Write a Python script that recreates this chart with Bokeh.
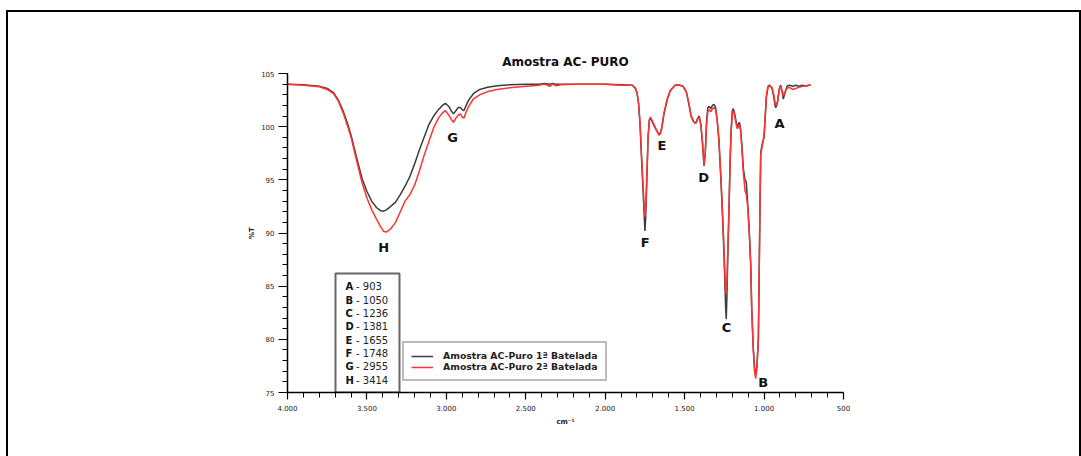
from bokeh.plotting import figure
from bokeh.models import (Range1d, FixedTicker, Legend, LegendItem, BoxAnnotation,
                          ColumnDataSource, InlineStyleSheet)
from bokeh.core.properties import value
from bokeh.embed import file_html
from bokeh.resources import INLINE

# ---------------- data ----------------
wavenumber = [
    4000, 3900, 3800, 3750, 3710, 3680, 3650, 3620, 3600, 3560,
    3530, 3500, 3470, 3440, 3414, 3395, 3375, 3350, 3320, 3290,
    3260, 3230, 3200, 3170, 3140, 3110, 3080, 3050, 3025, 3006,
    2985, 2970, 2955, 2940, 2925, 2912, 2900, 2890, 2875, 2860,
    2830, 2790, 2740, 2680, 2600, 2500, 2420, 2380, 2350, 2330,
    2310, 2280, 2200, 2100, 2000, 1900, 1830, 1810, 1800, 1790,
    1780, 1772, 1762, 1755, 1750, 1745, 1738, 1730, 1722, 1715,
    1705, 1690, 1675, 1662, 1655, 1645, 1630, 1610, 1590, 1560,
    1540, 1510, 1490, 1473, 1460, 1445, 1431, 1418, 1408, 1398,
    1388, 1378, 1370, 1362, 1354, 1345, 1335, 1325, 1315, 1305,
    1295, 1285, 1275, 1265, 1255, 1248, 1242, 1238, 1234, 1228,
    1221, 1214, 1208, 1200, 1193, 1185, 1175, 1168, 1160, 1155,
    1148, 1140, 1130, 1120, 1112, 1105, 1100, 1092, 1084, 1078,
    1068, 1060, 1053, 1045, 1036, 1031, 1027, 1021, 1011, 1000,
    993, 985, 975, 965, 950, 940, 930, 925, 915, 905,
    896, 885, 879, 870, 855, 843, 820, 800, 780, 760,
    740, 720, 706,
]

batch1_T = [
    104.0, 103.95, 103.8, 103.6, 103.2, 102.5, 101.5, 100.2, 99.2, 96.8,
    95.1, 93.9, 93.0, 92.4, 92.1, 92.05, 92.2, 92.5, 92.9, 93.6,
    94.4, 95.3, 96.5, 97.8, 99.0, 100.2, 101.0, 101.6, 102.0, 102.2,
    101.9, 101.5, 101.2, 101.5, 101.8, 101.8, 101.6, 101.5, 102.0, 102.5,
    103.1, 103.5, 103.7, 103.85, 103.95, 104.0, 104.0, 104.05, 104.0, 104.05,
    104.0, 104.0, 104.0, 104.0, 104.0, 103.95, 103.9, 103.6, 103.2, 102.2,
    100.0, 97.2, 94.0, 91.8, 90.2, 91.5, 95.0, 99.0, 100.6, 100.8,
    100.5, 100.0, 99.6, 99.3, 99.3, 99.8, 101.2, 102.5, 103.4, 103.9,
    103.95, 103.8, 103.3, 102.1, 101.0, 100.5, 100.3, 100.8, 101.0, 100.2,
    98.5, 96.3, 97.5, 100.5, 101.8, 101.9, 101.7, 102.0, 102.1, 101.8,
    100.6, 98.8, 96.0, 92.8, 89.0, 86.0, 83.0, 81.9, 84.0, 88.0,
    92.0, 96.5, 99.5, 101.5, 101.7, 101.2, 100.4, 99.9, 100.3, 100.4,
    99.8, 98.3, 96.0, 95.0, 94.8, 93.2, 92.0, 89.8, 87.0, 83.0,
    79.2, 77.3, 76.6, 77.5, 80.0, 86.0, 91.0, 97.6, 98.4, 99.0,
    100.8, 102.8, 103.8, 103.9, 103.6, 102.9, 101.9, 101.8, 102.3, 103.5,
    103.9, 103.2, 102.6, 103.1, 103.8, 103.9, 103.8, 103.9, 103.8, 103.9,
    103.8, 103.9, 103.9,
]

batch2_T = [
    104.0, 103.9, 103.75, 103.5, 103.1, 102.4, 101.3, 100.0, 99.0, 96.5,
    94.7, 93.3, 92.2, 91.3, 90.6, 90.15, 90.1, 90.4, 91.0, 92.0,
    93.0, 93.6, 94.5, 95.8, 97.3, 98.6, 99.9, 100.8, 101.3, 101.5,
    101.1, 100.7, 100.4, 100.8, 101.1, 101.2, 100.9, 100.8, 101.4, 101.9,
    102.6, 103.0, 103.3, 103.5, 103.65, 103.8, 103.9, 104.0, 103.8, 104.0,
    103.85, 103.95, 104.0, 104.0, 104.0, 103.9, 103.9, 103.6, 103.2, 102.2,
    100.2, 97.6, 94.6, 92.6, 91.5, 92.4, 95.5, 99.1, 100.7, 100.9,
    100.6, 100.1, 99.6, 99.2, 99.3, 99.8, 101.3, 102.6, 103.4, 103.9,
    103.95, 103.8, 103.3, 102.2, 101.1, 100.5, 100.3, 100.7, 100.9, 100.2,
    98.6, 96.4, 97.6, 100.2, 101.4, 101.6, 101.4, 101.7, 101.8, 101.6,
    100.6, 99.0, 96.3, 93.2, 89.6, 86.8, 84.6, 84.3, 85.5, 88.6,
    92.3, 96.6, 99.3, 101.3, 101.5, 101.0, 100.2, 99.8, 100.1, 100.2,
    99.6, 98.0, 95.6, 94.0, 93.6, 92.8, 91.8, 89.6, 87.0, 83.0,
    79.0, 77.0, 76.3, 77.3, 80.0, 86.0, 91.0, 97.4, 98.2, 99.2,
    101.0, 103.0, 103.8, 103.8, 103.7, 103.1, 102.2, 102.0, 102.4, 103.5,
    103.8, 103.3, 102.9, 103.2, 103.6, 103.7, 103.5, 103.6, 103.7, 103.8,
    103.8, 103.9, 103.9,
]

series_names = ["Amostra AC-Puro 1ª Batelada", "Amostra AC-Puro 2ª Batelada"]

peak_letters = ["A", "B", "C", "D", "E", "F", "G", "H"]
peak_wavenumbers = [903, 1050, 1236, 1381, 1655, 1748, 2955, 3414]
peak_label_T = [100.27, 75.96, 81.08, 95.24, 98.2, 89.13, 98.95, 88.66]

x_ticks = [4000, 3500, 3000, 2500, 2000, 1500, 1000, 500]
x_tick_labels = ["4.000", "3.500", "3.000", "2.500", "2.000", "1.500", "1.000", "500"]
y_ticks = [75, 80, 85, 90, 95, 100, 105]

# ---------------- style / layout ----------------
FONT = "DejaVu Sans"
W, H = 1081, 456
FL, FT, FW, FH = 287, 73, 556, 319   # frame left, top, width, height (px)
XMAX, XMIN, YMIN, YMAX = 4000, 500, 75, 105
peak_label_dx = [0, 7, 0, 0, 2, 0, -1, 3]


def px_to_x(px):
    return XMAX - (px - FL) * (XMAX - XMIN) / FW


def py_to_y(py):
    return YMAX - (py - FT) * (YMAX - YMIN) / FH


page_frame = InlineStyleSheet(css="""
:host { position: relative; }
:host::after {
  content: "";
  position: absolute;
  left: 6px; top: 10px;
  width: 1075px; height: 446px;
  border-top: 2.5px solid black;
  border-left: 2.5px solid black;
  border-right: 2px solid black;
  box-sizing: border-box;
  pointer-events: none;
  z-index: 10;
}
""")

p = figure(width=W, height=H, output_backend="svg", toolbar_location=None,
           x_range=Range1d(XMAX, XMIN), y_range=Range1d(YMIN, YMAX),
           min_border_left=FL, min_border_right=W - FL - FW,
           min_border_top=FT, min_border_bottom=H - FT - FH,
           title="Amostra AC- PURO", stylesheets=[page_frame])
p.outline_line_color = None
p.grid.visible = False
p.background_fill_color = "white"
p.border_fill_color = "white"

p.title.align = "center"
p.title.text_font = FONT
p.title.text_font_size = "12px"
p.title.text_font_style = "bold"
p.title.text_color = "#111111"
p.title.standoff = 10

# axes
xa = p.xaxis[0]
xa.ticker = FixedTicker(ticks=x_ticks, minor_ticks=list(range(4000, 499, -100)))
xa.major_label_overrides = {t: l for t, l in zip(x_ticks, x_tick_labels)}
xa.axis_label = "cm⁻¹"
xa.major_tick_out = 7
xa.minor_tick_out = 5
xa.major_label_standoff = 5
xa.axis_label_standoff = 4

ya = p.yaxis[0]
ya.ticker = FixedTicker(ticks=y_ticks, minor_ticks=list(range(75, 106)))
ya.axis_label = "%T"
ya.major_tick_out = 9
ya.minor_tick_out = 5
ya.major_label_standoff = 4
ya.axis_label_standoff = 2
ya.major_label_orientation = "horizontal"

for ax in (xa, ya):
    ax.axis_line_color = "black"
    ax.axis_line_width = 1.5
    ax.major_tick_line_color = "black"
    ax.minor_tick_line_color = "black"
    ax.major_tick_line_width = 1.2
    ax.minor_tick_line_width = 1.0
    ax.major_tick_in = 0
    ax.minor_tick_in = 0
    ax.major_label_text_font = FONT
    ax.major_label_text_font_size = "7px"
    ax.major_label_text_color = "#222222"
    ax.axis_label_text_font = FONT
    ax.axis_label_text_font_size = "7px"
    ax.axis_label_text_font_style = "bold"
    ax.axis_label_text_color = "#222222"

# peak list box (under the glyphs)
p.add_layout(BoxAnnotation(left=px_to_x(335), right=px_to_x(399),
                           top=py_to_y(273), bottom=YMIN,
                           fill_color="white", fill_alpha=1.0,
                           line_color="#666666", line_alpha=1.0, line_width=2,
                           level="underlay"))

# spectra
src = ColumnDataSource(dict(x=wavenumber, b1=batch1_T, b2=batch2_T))
r1 = p.line("x", "b1", source=src, line_color="#3d3d3d", line_width=1.5)
r2 = p.line("x", "b2", source=src, line_color="#ff3333", line_width=1.5)

# peak letters
lsrc = ColumnDataSource(dict(x=peak_wavenumbers, y=peak_label_T, t=peak_letters,
                             dx=peak_label_dx))
p.text("x", "y", text="t", x_offset="dx", source=lsrc, text_font=value(FONT),
       text_font_size="13px", text_font_style="bold", text_color="#111111",
       text_align="center", text_baseline="middle")

# peak list text
row_y0 = py_to_y(286.3)
row_dy = 13.34 * (YMAX - YMIN) / FH
list_src = ColumnDataSource(dict(
    xl=[px_to_x(345)] * len(peak_letters),
    xr=[px_to_x(355.5)] * len(peak_letters),
    y=[row_y0 - i * row_dy for i in range(len(peak_letters))],
    letter=peak_letters,
    rest=["- %d" % w for w in peak_wavenumbers],
))
p.text("xl", "y", text="letter", source=list_src, text_font=value(FONT),
       text_font_size="10px", text_font_style="bold", text_color="#111111",
       text_align="left", text_baseline="middle")
p.text("xr", "y", text="rest", source=list_src, text_font=value(FONT),
       text_font_size="10px", text_color="#222222",
       text_align="left", text_baseline="middle")

# legend
legend = Legend(items=[LegendItem(label=series_names[0], renderers=[r1]),
                       LegendItem(label=series_names[1], renderers=[r2])],
                location=(115, 11), padding=7, spacing=0, margin=0,
                label_height=10, glyph_height=10, glyph_width=22,
                label_standoff=10,
                label_text_font=FONT, label_text_font_size="9.3px",
                label_text_font_style="bold", label_text_color="#222222",
                border_line_color="#777777", border_line_width=2,
                background_fill_color="white", background_fill_alpha=1.0)
p.add_layout(legend, "center")

open("out.html", "w").write(file_html(p, INLINE))
